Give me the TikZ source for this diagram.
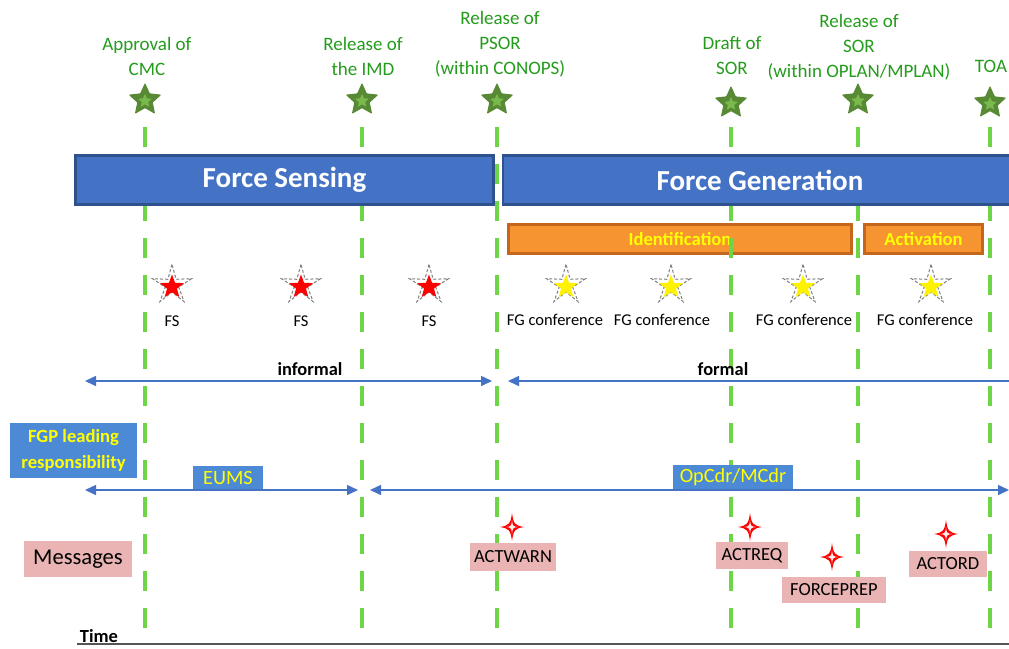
\documentclass[tikz,border=0pt]{standalone}
\usepackage{fontspec}
\setmainfont{Carlito}
\usetikzlibrary{shapes.geometric,arrows.meta}
\definecolor{barblue}{RGB}{68,114,196}
\definecolor{bardark}{RGB}{47,82,143}
\definecolor{boxblue}{RGB}{76,138,214}
\definecolor{msgreen}{RGB}{36,156,28}
\definecolor{vgreen}{RGB}{110,214,70}
\definecolor{starfill}{RGB}{122,186,76}
\definecolor{stardark}{RGB}{88,138,54}
\definecolor{orfill}{RGB}{247,148,50}
\definecolor{ordark}{RGB}{197,102,30}
\definecolor{txtyellow}{RGB}{255,255,0}
\definecolor{msgpink}{RGB}{234,180,180}
\definecolor{arrblue}{RGB}{68,114,196}
\definecolor{axisgray}{RGB}{85,85,85}

\begin{document}
\begin{tikzpicture}[x=1pt,y=-1pt,
  vline/.style={vgreen, line width=4pt, dash pattern=on 20pt off 17pt},
  milestone/.style={star, star points=5, star point ratio=2.1, minimum size=32pt,
    inner sep=0pt, fill=stardark, draw=stardark, line width=1pt, line join=round},
  mscore/.style={star, star points=5, star point ratio=2.1, minimum size=14pt,
    inner sep=0pt, fill=starfill},
  mslabel/.style={text=msgreen, align=center, inner sep=0pt,
    font=\fontsize{19}{25}\selectfont},
  phasebar/.style={fill=barblue, draw=bardark, line width=2.5pt, minimum height=49pt,
    inner sep=0pt, text=white, font=\fontsize{29}{30}\selectfont\bfseries},
  subbar/.style={fill=orfill, draw=ordark, line width=3pt, minimum height=29pt,
    inner sep=0pt, text=txtyellow, font=\fontsize{18.6}{20}\selectfont\bfseries},
  confring/.style={star, star points=5, star point ratio=2.9, minimum size=41pt,
    inner sep=0pt, draw=gray, densely dashed, line width=1pt, fill=white},
  fsstar/.style={star, star points=5, star point ratio=2.4, minimum size=25pt,
    inner sep=0pt, fill=red},
  fgstar/.style={star, star points=5, star point ratio=2.4, minimum size=25pt,
    inner sep=0pt, fill=yellow},
  conflabel/.style={inner sep=0pt, font=\fontsize{16.5}{18}\selectfont},
  flowlabel/.style={inner sep=0pt, font=\fontsize{18.4}{20}\selectfont\bfseries},
  twoway/.style={arrblue, line width=1.5pt,
    {Triangle[length=11pt,width=10pt]}-{Triangle[length=11pt,width=10pt]}},
  oneway/.style={arrblue, line width=1.5pt, {Triangle[length=11pt,width=10pt]}-},
  rolebox/.style={fill=boxblue, inner sep=0pt, text=txtyellow,
    font=\fontsize{20.3}{22}\selectfont},
  msgbox/.style={fill=msgpink, inner sep=0pt, font=\fontsize{18.5}{20}\selectfont},
  sparkle/.pic={
    \path[fill=red] (0,-14) .. controls (1.5,-3) and (3,-1.5) .. (12,0)
      .. controls (3,1.5) and (1.5,3) .. (0,14) .. controls (-1.5,3) and (-3,1.5) .. (-12,0)
      .. controls (-3,-1.5) and (-1.5,-3) .. cycle;
    \path[fill=red!8] (0,-7) .. controls (0.5,-1) and (1,-0.5) .. (6,0)
      .. controls (1,0.5) and (0.5,1) .. (0,7) .. controls (-0.5,1) and (-1,0.5) .. (-6,0)
      .. controls (-1,-0.5) and (-0.5,-1) .. cycle;
  }
]
\clip (0,0) rectangle (1009,648);
\fill[white] (0,0) rectangle (1009,648);

% sub-phase bars beneath the milestone lines
\node[subbar, minimum width=343pt] (ident) at (680,239) {Identification};
\node[subbar, minimum width=118pt] (activ) at (923.5,239) {Activation};

% milestone lines
\foreach \n/\x in {1/145,2/362,3/497,4/731,5/858,6/990}{
  \coordinate (top\n) at (\x,127);
  \coordinate (bot\n) at (\x,628);
  \draw[vline] (top\n) -- (bot\n);
}

% phase bars
\node[phasebar, minimum width=418pt] (sensing) at (284.5,180) {Force Sensing};
\node[phasebar, minimum width=514pt] (generation) at (760,180) {Force Generation};

% milestones
\foreach \n/\x/\y in {1/145/100,2/362/100,3/497/100,4/731/103,5/858/100,6/990/103}{
  \node[milestone] (ms\n) at (\x,\y) {};
  \node[mscore] (mscore\n) at (\x,\y+1) {};
}
\node[mslabel] (lab1) at (147,56) {Approval of\\CMC};
\node[mslabel] (lab2) at (363,56) {Release of\\the IMD};
\node[mslabel] (lab3) at (500,44) {Release of\\PSOR\\(within CONOPS)};
\node[mslabel] (lab4) at (732,56) {Draft of\\SOR};
\node[mslabel] (lab5) at (859,47) {Release of\\SOR\\(within OPLAN/MPLAN)};
\node[mslabel] (lab6) at (991,66) {TOA};

% force sensing meetings
\foreach \n/\x in {1/172,2/301,3/429}{
  \node[confring] (fsring\n) at (\x,285) {};
  \node[fsstar] (fs\n) at (\x,287) {};
  \node[conflabel] (fslab\n) at (\x,321) {FS};
}
% force generation conferences
\foreach \n/\x/\lx in {1/566/555,2/671/662,3/803/804,4/931/925}{
  \node[confring] (fgring\n) at (\x,285) {};
  \node[fgstar] (fg\n) at (\x,287) {};
  \node[conflabel] (fglab\n) at (\lx,320) {FG conference};
}

% informal / formal phases
\coordinate (infL) at (85,381);
\coordinate (infR) at (492,381);
\coordinate (forL) at (508,381);
\coordinate (forR) at (1015,381);
\draw[twoway] (infL) -- (infR);
\draw[oneway] (forL) -- (forR);
\node[flowlabel] (informal) at (310,369) {informal};
\node[flowlabel] (formal) at (723,369) {formal};

% leading responsibility
\node[rolebox, minimum width=127pt, minimum height=55pt, align=center,
  font=\fontsize{18.6}{26}\selectfont\bfseries] (fgp) at (73.5,450.5) {FGP leading\\responsibility};
\node[rolebox, minimum width=70pt, minimum height=24pt] (eums) at (228,478) {EUMS};
\node[rolebox, minimum width=120pt, minimum height=25pt] (opcdr) at (733,477.5) {OpCdr/MCdr};
\coordinate (eumsL) at (85,490);
\coordinate (eumsR) at (358,490);
\coordinate (opL) at (370,490);
\coordinate (opR) at (1009,490);
\draw[twoway] (eumsL) -- (eumsR);
\draw[twoway] (opL) -- (opR);

% messages
\node[msgbox, minimum width=108pt, minimum height=36pt, font=\fontsize{22.6}{24}\selectfont] (messages) at (78,559) {Messages};
\node[msgbox, minimum width=86pt, minimum height=28pt] (actwarn) at (513,557) {ACTWARN};
\node[msgbox, minimum width=72pt, minimum height=27pt] (actreq) at (752,555.5) {ACTREQ};
\node[msgbox, minimum width=104pt, minimum height=26pt] (forceprep) at (834,590) {FORCEPREP};
\node[msgbox, minimum width=78pt, minimum height=26pt] (actord) at (948,564) {ACTORD};
\pic (spwarn) at (512,527) {sparkle};
\pic (spreq) at (750,527) {sparkle};
\pic (spprep) at (832,557) {sparkle};
\pic (spord) at (946,534) {sparkle};

% time axis
\coordinate (axL) at (77,644);
\coordinate (axR) at (1009,644);
\draw[axisgray, line width=2.5pt] (axL) -- (axR);
\node[inner sep=0pt, font=\fontsize{18.5}{20}\selectfont\bfseries] (time) at (99,636) {Time};
\end{tikzpicture}
\end{document}
